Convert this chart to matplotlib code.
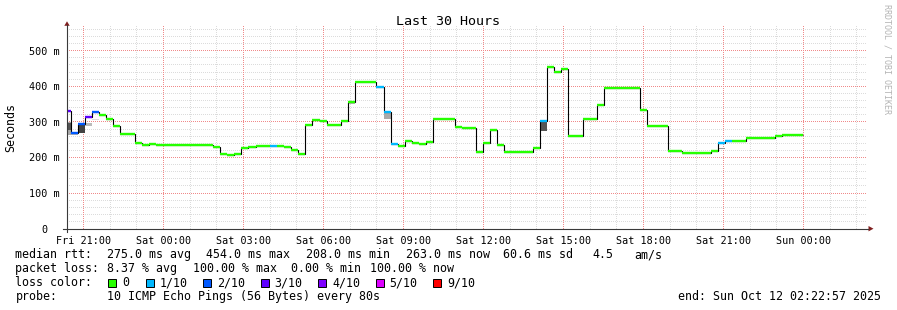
import numpy as np
import matplotlib
matplotlib.use("Agg")
import matplotlib.pyplot as plt
from matplotlib.patches import Rectangle, Polygon
from matplotlib.lines import Line2D
from matplotlib.colors import to_rgba

W, H = 897, 310
FONT = "DejaVu Sans Mono"

# ---------------- data ----------------
# median RTT (ms) of consecutive 16-minute consolidated samples
median_ms = [330, 270, 294, 314, 327, 320, 307, 288, 267, 267,
             240, 236, 238, 236, 236, 236, 236, 236, 236, 236,
             236, 230, 209, 208, 210, 227, 230, 232, 232, 231,
             233, 230, 222, 210, 291, 304, 302, 290, 290, 302,
             357, 412, 412, 412, 398, 329, 237, 231, 246, 241,
             239, 244, 308, 308, 308, 286, 284, 284, 216, 241,
             277, 236, 215, 215, 215, 215, 228, 302, 454, 439,
             448, 259, 259, 307, 307, 347, 394, 394, 394, 394,
             394, 333, 288, 288, 288, 218, 218, 214, 214, 214,
             214, 217, 241, 246, 246, 246, 256, 256, 256, 256,
             259, 263, 263, 263]
first_sample_end_h = 0.139      # hours after graph start (Fri 20:22:57)
sample_step_h = 16 / 60
span_h = 30

# samples with packet loss (index into loss_colors)
lossy_samples = [0, 1, 2, 3, 4, 29, 44, 45, 46, 67, 92, 93]
lossy_levels = [3, 2, 2, 3, 2, 1, 1, 1, 1, 1, 1, 1]

loss_colors = ["#26ff00", "#00b8ff", "#0059ff", "#5e00ff", "#7e00ff", "#dd00ff", "#ff0000"]
loss_labels = ["0", "1/10", "2/10", "3/10", "4/10", "5/10", "9/10"]

# visible smoke (ping spread) for a few samples
smoke_samples = [0, 0, 1, 2, 2, 3, 4, 40, 45, 57, 67, 92]
smoke_lo = [263, 278, 263, 270, 292, 288, 306, 350, 309, 280, 275, 224]
smoke_hi = [300, 296, 270, 292, 298, 297, 309, 357, 327, 284, 300, 228]
smoke_gray = ["#aaaaaa", "#555555", "#bbbbbb", "#444444", "#bbbbbb", "#bbbbbb",
              "#dddddd", "#bbbbbb", "#aaaaaa", "#aaaaaa", "#555555", "#999999"]

first_label_h = 0.6175          # Fri 21:00 relative to graph start
x_tick_labels = ["Fri 21:00", "Sat 00:00", "Sat 03:00", "Sat 06:00", "Sat 09:00",
                 "Sat 12:00", "Sat 15:00", "Sat 18:00", "Sat 21:00", "Sun 00:00"]
y_ticks = [0, 100, 200, 300, 400, 500]
y_tick_labels = ["0  ", "100 m", "200 m", "300 m", "400 m", "500 m"]
y_max = 570

legend_rtt = ["median rtt:", "275.0 ms avg", "454.0 ms max", "208.0 ms min",
              "263.0 ms now", "60.6 ms sd", "4.5", "am/s"]
legend_loss = ["packet loss:", "8.37 % avg", "100.00 % max", "0.00 % min", "100.00 % now"]
probe_text = "10 ICMP Echo Pings (56 Bytes) every 80s"
end_text = "end: Sun Oct 12 02:22:57 2025"
title = "Last 30 Hours"

# ---------------- figure ----------------
fig = plt.figure(figsize=(W / 100, H / 100), dpi=100)
fig.patch.set_facecolor("white")

def fx(x):
    return x / W

def fy(y):
    return 1 - y / H

ax_left, ax_right = 67, 867
ax_bottom = 228.7
px_per_ms = 0.356
ax_top = ax_bottom - y_max * px_per_ms
ax = fig.add_axes([fx(ax_left), fy(ax_bottom), (ax_right - ax_left) / W, (ax_bottom - ax_top) / H])
ax.set_xlim(0, span_h)
ax.set_ylim(0, y_max)
for s in ax.spines.values():
    s.set_visible(False)
ax.patch.set_facecolor("none")

# ---- dotted grid rendered pixel-exact (1 px on / 1 px off) ----
minor_rgba = to_rgba("#dcdcdc")
major_rgba = to_rgba("#f08a8a")
grid = np.zeros((H, W, 4))
hours_minor = first_label_h + np.arange(-1, 30)
hours_minor = hours_minor[(hours_minor > 0) & (hours_minor < span_h)]
hours_major = first_label_h + 3 * np.arange(len(x_tick_labels))
gx0 = int(round(ax.transData.transform((0, 0))[0]))
gx1 = int(round(ax.transData.transform((span_h, 0))[0]))
gy_top = ax.transData.transform((0, y_max))[1]
gy_bot = ax.transData.transform((0, 0))[1]
r_top = H - int(np.ceil(gy_top))
r_bot = H - int(np.floor(gy_bot))

def hline_px(v, rgba):
    y = ax.transData.transform((0, v))[1]
    row = H - 1 - int(np.floor(y))
    grid[row, gx0:gx1:2] = rgba

def vline_px(h, rgba):
    x = ax.transData.transform((h, 0))[0]
    col = int(np.floor(x))
    grid[r_bot - 1:r_top:-2, col] = rgba

for h in hours_minor:
    vline_px(h, minor_rgba)
for v in range(20, y_max, 20):
    hline_px(v, minor_rgba)
for h in hours_major:
    vline_px(h, major_rgba)
for v in y_ticks[1:]:
    hline_px(v, major_rgba)
fig.figimage(grid, xo=0, yo=0, origin="upper", zorder=-1)

# data
med = np.array(median_ms, dtype=float)
n = len(med)
edges = first_sample_end_h + sample_step_h * (np.arange(n + 1) - 1)

for i, lo, hi, g in zip(smoke_samples, smoke_lo, smoke_hi, smoke_gray):
    ax.bar(edges[i], hi - lo, bottom=lo, width=sample_step_h, align="edge",
           color=g, lw=0, zorder=1.5)

ax.stairs(med, edges, baseline=None, color="black", lw=0.8, zorder=2)

levels = np.zeros(n, dtype=int)
levels[lossy_samples] = lossy_levels
cols = [loss_colors[l] for l in levels]
ax.hlines(med, edges[:-1], edges[1:], colors=cols, lw=1.7, zorder=3,
          capstyle="butt")

ax.set_xticks(hours_major)
ax.set_xticklabels(x_tick_labels, fontfamily=FONT, fontsize=7.3)
ax.set_yticks(y_ticks)
ax.set_yticklabels(y_tick_labels, fontfamily=FONT, fontsize=7.3)
ax.tick_params(axis="both", length=0, colors="black")
ax.tick_params(axis="y", pad=5)
ax.tick_params(axis="x", pad=5)

# axes lines and arrows
axis_col = "#3a3a3a"
fig.add_artist(Line2D([fx(63), fx(868)], [fy(ax_bottom), fy(ax_bottom)],
                      transform=fig.transFigure, color=axis_col, lw=0.8))
fig.add_artist(Line2D([fx(ax_left), fx(ax_left)], [fy(232), fy(25)],
                      transform=fig.transFigure, color=axis_col, lw=0.8))
arrow_col = "#801f1f"
fig.add_artist(Polygon([[fx(64.3), fy(25.8)], [fx(69.7), fy(25.8)], [fx(67), fy(21.3)]],
                       closed=True, transform=fig.transFigure, color=arrow_col, lw=0))
fig.add_artist(Polygon([[fx(868.5), fy(226)], [fx(868.5), fy(231.4)], [fx(873.5), fy(228.7)]],
                       closed=True, transform=fig.transFigure, color=arrow_col, lw=0))

# title / labels
fig.text(fx(447.5), fy(24.7), title, ha="center", va="baseline",
         fontfamily=FONT, fontsize=9.6)
fig.text(fx(11), fy(127.5), "Seconds", ha="center", va="center", rotation=90,
         fontfamily=FONT, fontsize=8.4)
fig.text(fx(887), fy(4), "RRDTOOL / TOBI OETIKER", ha="center", va="top", rotation=270,
         fontfamily=FONT, fontsize=6.0, color="#b4b4b4")

# legend
LS = 8.37
rtt_x = [16, 107.3, 206.7, 306.7, 406.7, 503.3, 593.3, 635]
for t, x in zip(legend_rtt, rtt_x):
    fig.text(fx(x - 0.6), fy(258), t, ha="left", va="baseline", fontfamily=FONT, fontsize=LS)
loss_x = [16, 107.3, 193.3, 291.7, 370.7]
for t, x in zip(legend_loss, loss_x):
    fig.text(fx(x - 0.6), fy(272), t, ha="left", va="baseline", fontfamily=FONT, fontsize=LS)
fig.text(fx(15.4), fy(286), "loss color:", ha="left", va="baseline", fontfamily=FONT, fontsize=LS)
box_x = [108.3, 146, 203.3, 260.7, 318.3, 375.7, 433.3]
for bx, c, lab in zip(box_x, loss_colors, loss_labels):
    fig.add_artist(Rectangle((fx(bx), fy(287)), 8 / W, 8 / H, transform=fig.transFigure,
                             facecolor=c, edgecolor="black", lw=0.7))
    fig.text(fx(bx + 14), fy(286), lab, ha="left", va="baseline", fontfamily=FONT, fontsize=LS)
fig.text(fx(15.4), fy(300), "probe:", ha="left", va="baseline", fontfamily=FONT, fontsize=LS)
fig.text(fx(106.7), fy(300), probe_text, ha="left", va="baseline", fontfamily=FONT, fontsize=LS)
fig.text(fx(677.7), fy(300), end_text, ha="left", va="baseline", fontfamily=FONT, fontsize=LS)

fig.savefig("out.png", dpi=100, facecolor="white")
